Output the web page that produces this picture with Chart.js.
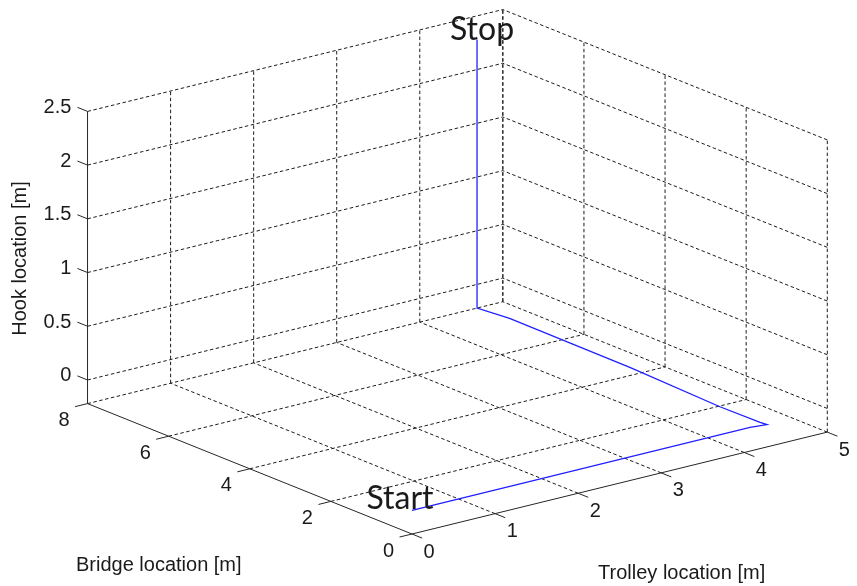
<!DOCTYPE html>
<html>
<head>
<meta charset="utf-8">
<script src="https://cdn.jsdelivr.net/npm/chart.js@4.4.1/dist/chart.umd.min.js"></script>
<style>
  html, body { margin: 0; padding: 0; background: #fff; }
  canvas { display: block; }
</style>
</head>
<body>
<canvas id="craneChart" width="857" height="586"></canvas>
<script>
// hook path: trolley [m], bridge [m], hook [m]
const trolleyPos = [0, 2.0, 4.07, 4.25, 4.24, 4.23, 4.29, 4.30, 4.25, 4.25];
const bridgePos  = [0, 0, 0, -0.05, 0.1, 1.07, 3.4, 6.4, 7.1, 7.1];
const hookPos    = [0, 0, 0, 0, 0, 0, 0, 0, 0, 2.5];

const trolleyTicks = [0, 1, 2, 3, 4, 5];
const bridgeTicks = [0, 2, 4, 6, 8];
const hookTicks = [0, 0.5, 1, 1.5, 2, 2.5];
const hookTickLabels = ['0', '0.5', '1', '1.5', '2', '2.5'];

// axis limits of the 3d box
const xLim = [0, 5];
const yLim = [0, 8];
const zLim = [-0.22, 2.5];

// camera: orthographic view like matlab's view(az, el)
const az = 38 * Math.PI / 180;
const el = 18.3 * Math.PI / 180;
const boxAspect = [1, 1, 0.584];
const zoom = 527;            // px per box unit
const origin = [412, 534];   // where the front-bottom corner sits on the canvas

function project(x, y, z) {
  const X = (x - xLim[0]) / (xLim[1] - xLim[0]) * boxAspect[0];
  const Y = (y - yLim[0]) / (yLim[1] - yLim[0]) * boxAspect[1];
  const Z = (z - zLim[0]) / (zLim[1] - zLim[0]) * boxAspect[2];
  return {
    x: X * Math.cos(az) - Y * Math.sin(az),
    y: (X * Math.sin(az) + Y * Math.cos(az)) * Math.sin(el) + Z * Math.cos(el)
  };
}

const W = 857, H = 586;
const zMin = zLim[0], zMax = zLim[1];

const gridStyle = { borderColor: '#1c1c1c', borderWidth: 1, borderDash: [3.5, 2.5] };
const axisStyle = { borderColor: '#262626', borderWidth: 1, borderDash: [] };

const datasets = [];
function seg(a, b, style) {
  datasets.push(Object.assign({
    data: [project(a[0], a[1], a[2]), project(b[0], b[1], b[2])],
    showLine: true, pointRadius: 0, fill: false, order: 2
  }, style));
}

// floor grid
trolleyTicks.forEach(t => seg([t, yLim[0], zMin], [t, yLim[1], zMin], t === xLim[0] ? axisStyle : gridStyle));
bridgeTicks.forEach(b => seg([xLim[0], b, zMin], [xLim[1], b, zMin], b === yLim[0] ? axisStyle : gridStyle));
// back wall at bridge = 8
trolleyTicks.forEach(t => seg([t, yLim[1], zMin], [t, yLim[1], zMax], t === xLim[0] ? axisStyle : gridStyle));
hookTicks.forEach(h => seg([xLim[0], yLim[1], h], [xLim[1], yLim[1], h], gridStyle));
// back wall at trolley = 5
bridgeTicks.forEach(b => seg([xLim[1], b, zMin], [xLim[1], b, zMax], gridStyle));
hookTicks.forEach(h => seg([xLim[1], yLim[0], h], [xLim[1], yLim[1], h], gridStyle));

// tick marks
const tx = 0.15, ty = 0.25;
hookTicks.forEach(h => seg([xLim[0], yLim[1], h], [xLim[0], yLim[1] + ty, h], axisStyle));
bridgeTicks.forEach(b => seg([xLim[0], b, zMin], [xLim[0] - tx, b, zMin], axisStyle));
trolleyTicks.forEach(t => seg([t, yLim[0], zMin], [t, yLim[0] - ty, zMin], axisStyle));

// the hook path
datasets.push({
  data: trolleyPos.map((t, i) => project(t, bridgePos[i], hookPos[i])),
  showLine: true, pointRadius: 0, fill: false,
  borderColor: '#1f1fff', borderWidth: 1.3, order: 1
});

const tickFont = '20px "Liberation Sans", Arial, sans-serif';

const labelPlugin = {
  id: 'labels3d',
  afterDatasetsDraw(chart) {
    const ctx = chart.ctx;
    const sx = chart.scales.x, sy = chart.scales.y;
    const px = (x, y, z) => {
      const p = project(x, y, z);
      return [sx.getPixelForValue(p.x), sy.getPixelForValue(p.y)];
    };
    ctx.save();
    ctx.fillStyle = '#1a1a1a';
    ctx.font = tickFont;

    ctx.textAlign = 'right';
    ctx.textBaseline = 'middle';
    hookTicks.forEach((h, i) => {
      const [x, y] = px(xLim[0], yLim[1] + ty, h);
      ctx.fillText(hookTickLabels[i], x - 6, y);
    });

    ctx.textAlign = 'center';
    bridgeTicks.forEach(b => {
      const [x, y] = px(xLim[0] - tx, b, zMin);
      ctx.fillText(String(b), x - 11, y + 14);
    });
    trolleyTicks.forEach(t => {
      const [x, y] = px(t, yLim[0] - ty, zMin);
      ctx.fillText(String(t), x + 7, y + 14);
    });

    // axis titles
    let [bx, by] = px(xLim[0], (yLim[0] + yLim[1]) / 2, zMin);
    ctx.fillText('Bridge location [m]', bx - 91, by + 97);
    let [tx2, ty2] = px((xLim[0] + xLim[1]) / 2, yLim[0], zMin);
    ctx.fillText('Trolley location [m]', tx2 + 62, ty2 + 90);
    let [hx, hy] = px(xLim[0], yLim[1], (zMin + zMax) / 2);
    ctx.save();
    ctx.translate(hx - 67, hy + 1);
    ctx.rotate(-Math.PI / 2);
    ctx.fillText('Hook location [m]', 0, 0);
    ctx.restore();

    // start / stop annotations
    ctx.font = '32px Lato, "Open Sans", sans-serif';
    ctx.textBaseline = 'alphabetic';
    const last = trolleyPos.length - 1;
    let [s0x, s0y] = px(trolleyPos[0], bridgePos[0], hookPos[0]);
    ctx.fillText('Start', s0x - 12, s0y - 1);
    let [s1x, s1y] = px(trolleyPos[last], bridgePos[last], hookPos[last]);
    ctx.fillText('Stop', s1x + 5, s1y + 1);
    ctx.restore();
  }
};

new Chart(document.getElementById('craneChart'), {
  type: 'scatter',
  data: { datasets },
  options: {
    responsive: false,
    animation: false,
    events: [],
    layout: { padding: 0 },
    plugins: { legend: { display: false }, tooltip: { enabled: false } },
    scales: {
      x: { type: 'linear', display: false, min: -origin[0] / zoom, max: (W - origin[0]) / zoom },
      y: { type: 'linear', display: false, min: (origin[1] - H) / zoom, max: origin[1] / zoom }
    }
  },
  plugins: [labelPlugin]
});
</script>
</body>
</html>
